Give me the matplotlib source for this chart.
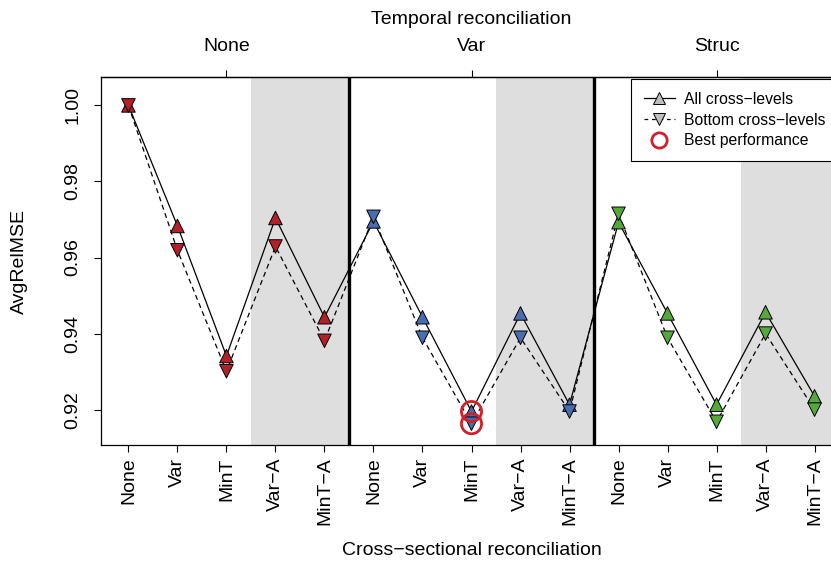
import matplotlib.pyplot as plt
from matplotlib.lines import Line2D

plt.rcParams["font.family"] = ["Liberation Sans", "DejaVu Sans"]
plt.rcParams["font.size"] = 14

# Data
cross_levels = ["None", "Var", "MinT", "Var\u2212A", "MinT\u2212A"]
temporal_levels = ["None", "Var", "Struc"]
group_colors = ["#B2202A", "#4A6DB0", "#55A83A"]

all_levels = [1.000, 0.9683, 0.9341, 0.9704, 0.9443,
              0.9695, 0.9443, 0.9195, 0.9453, 0.9213,
              0.9693, 0.9453, 0.9213, 0.9456, 0.9235]
bottom_levels = [1.000, 0.9619, 0.9301, 0.9629, 0.9381,
                 0.9707, 0.9389, 0.9163, 0.9389, 0.9195,
                 0.9715, 0.9389, 0.9168, 0.9400, 0.9200]
best_index = 7

n_cross = len(cross_levels)
x = list(range(1, n_cross * len(temporal_levels) + 1))
xlabels = cross_levels * len(temporal_levels)
point_colors = [c for c in group_colors for _ in range(n_cross)]

W, H = 831, 567
fig = plt.figure(figsize=(W / 100, H / 100), dpi=100)
ax = fig.add_axes([101 / W, 122 / H, 741 / W, 368 / H])
ax.set_xlim(0.44, 15.56)
ax.set_ylim(0.9107, 1.00747)

# shaded Var-A / MinT-A columns
for g in range(len(temporal_levels)):
    ax.axvspan(g * n_cross + 3.5, g * n_cross + 5.5, color="#DEDEDE", lw=0, zorder=0)

# separators between temporal groups
for g in range(1, len(temporal_levels)):
    ax.axvline(g * n_cross + 0.5, color="black", lw=2.4, zorder=1)

# lines
ax.plot(x, all_levels, color="black", lw=0.9, zorder=2)
ax.plot(x, bottom_levels, color="black", lw=0.9, ls=(0, (4, 3)), zorder=2)

# markers
ms = 95
ax.scatter(x, all_levels, marker="^", s=ms, c=point_colors,
           edgecolors="black", linewidths=0.7, zorder=3)
ax.scatter(x, bottom_levels, marker="v", s=ms, c=point_colors,
           edgecolors="black", linewidths=0.7, zorder=3)

# best performance
ax.scatter([x[best_index]] * 2, [all_levels[best_index], bottom_levels[best_index]],
           s=210, facecolors="none", edgecolors="#D0202A", linewidths=2, zorder=4)

# axes
ax.set_xticks(x)
ax.set_xticklabels(xlabels, rotation=90)
ax.set_yticks([0.92, 0.94, 0.96, 0.98, 1.00])
ax.set_yticklabels(["0.92", "0.94", "0.96", "0.98", "1.00"], rotation=90, va="center")
ax.tick_params(axis="x", length=5, width=0.8, pad=4)
ax.tick_params(axis="y", length=5, width=0.8, pad=9)
ax.set_xlabel("Cross\u2212sectional reconciliation", labelpad=12)
ax.set_ylabel("AvgRelMSE", labelpad=26)
for s in ax.spines.values():
    s.set_linewidth(0.9)

top = ax.secondary_xaxis("top")
top.set_xticks([3, 8, 13])
top.set_xticklabels(temporal_levels)
top.tick_params(length=5, width=0.8, pad=11)
top.set_xlabel("Temporal reconciliation", labelpad=10)
top.spines["top"].set_linewidth(0.9)

# legend
handles = [
    Line2D([], [], color="black", lw=0.9, marker="^", ms=9,
           mfc="#BEBEBE", mec="black", mew=0.7),
    Line2D([], [], color="black", lw=0.9, ls=(0, (3, 3)), marker="v", ms=9,
           mfc="#BEBEBE", mec="black", mew=0.7),
    Line2D([], [], ls="none", marker="o", ms=11, mfc="none",
           mec="#D0202A", mew=2),
]
labels = ["All cross\u2212levels", "Bottom cross\u2212levels", "Best performance"]
leg = fig.legend(handles, labels, loc="upper left",
                 bbox_to_anchor=(631 / W, 1 - 79 / H), bbox_transform=fig.transFigure,
                 fontsize=11.3, frameon=True, fancybox=False, framealpha=1,
                 edgecolor="black", handlelength=2.0, handletextpad=0.55,
                 labelspacing=0.38, borderpad=0.8, borderaxespad=0)
leg.get_frame().set_linewidth(0.8)

fig.savefig("out.png", dpi=100)
